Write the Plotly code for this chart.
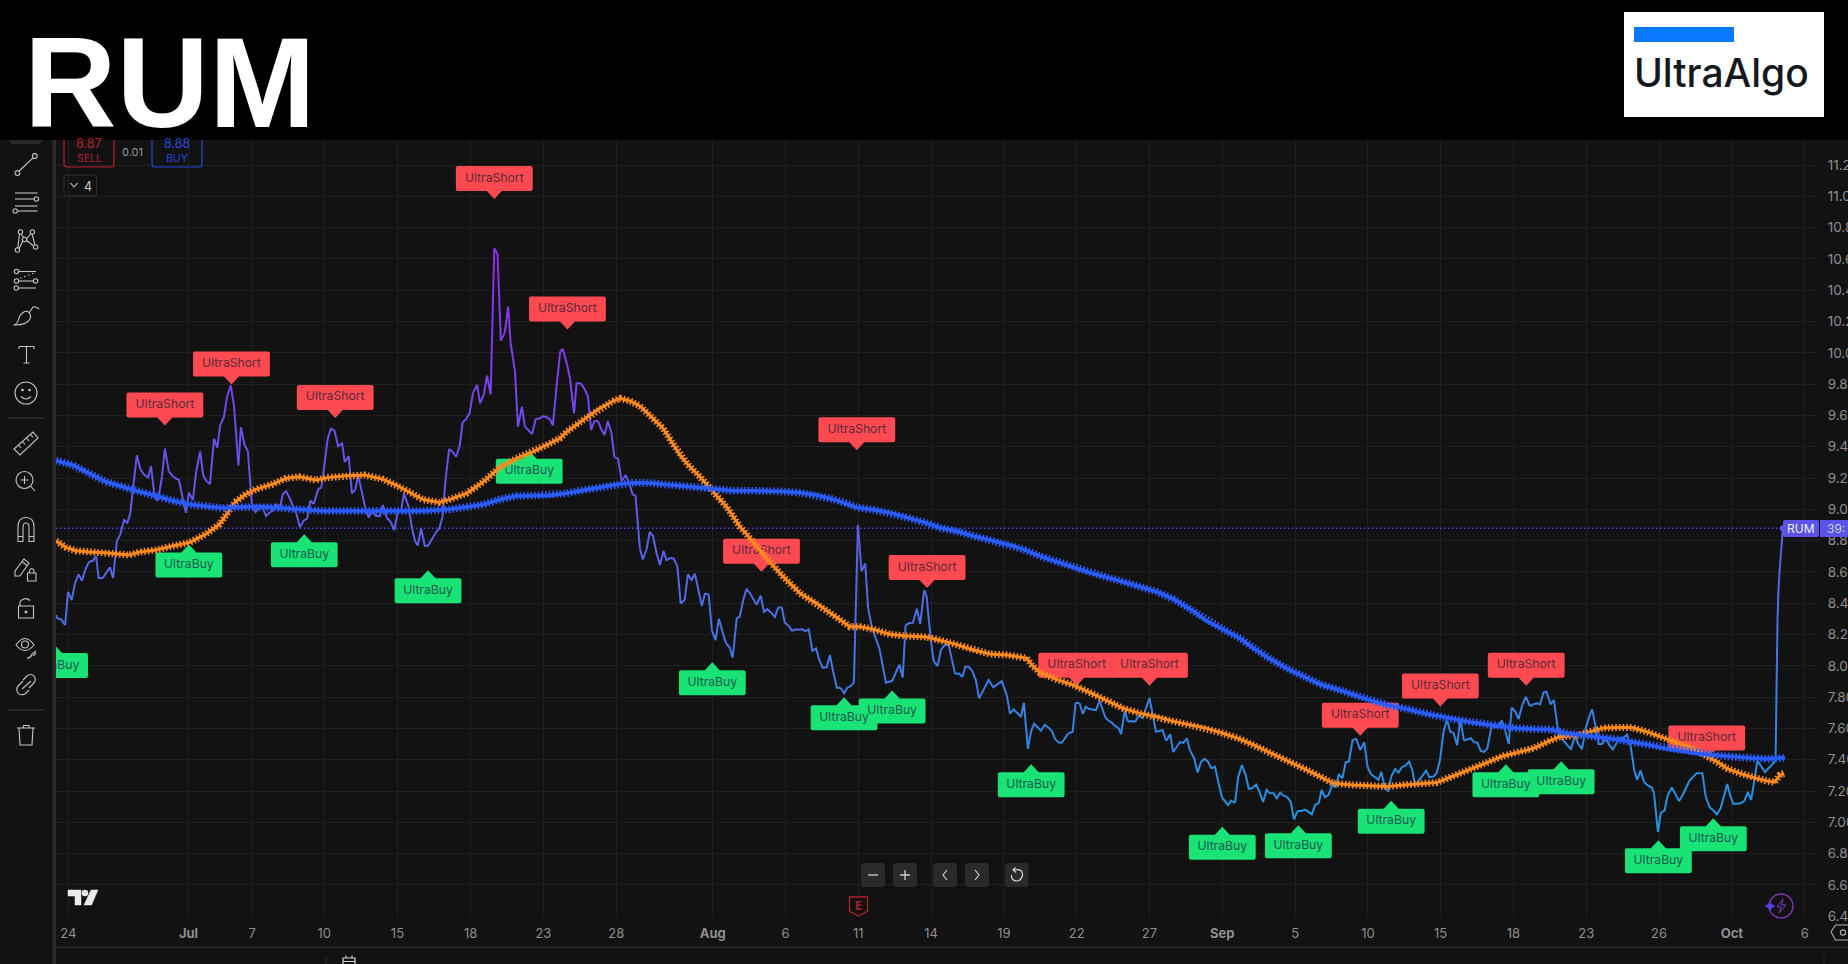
import plotly.graph_objects as go

# price line at its vertices (bar number, price)
line_bars = [-3.4, -3.0, -2.0, -0.9, -0.1, 0.9, 1.8, 2.8, 3.7, 4.8, 5.7, 6.7, 7.6, 8.3, 9.4, 11.4, 12.3, 13.3, 14.2, 15.3,
             16.2, 17.0, 17.8, 18.8, 19.8, 20.9, 21.9, 22.7, 23.7, 24.6, 25.7, 26.5, 27.6, 28.6, 29.6, 30.4, 31.4, 32.3, 33.1, 34.2,
             35.1, 36.2, 37.0, 37.9, 38.9, 40.0, 40.9, 41.7, 42.7, 43.6, 44.6, 45.5, 46.7, 47.4, 48.4, 49.3, 50.4, 51.4, 52.4, 53.2,
             54.3, 55.2, 56.0, 57.0, 58.0, 58.9, 59.8, 60.7, 61.7, 62.6, 63.6, 64.6, 65.6, 66.5, 67.4, 68.6, 69.5, 70.4, 71.2, 72.1,
             73.1, 74.1, 75.2, 75.9, 77.0, 77.9, 78.8, 79.6, 80.6, 81.6, 82.5, 83.4, 84.5, 85.6, 86.4, 87.4, 88.5, 89.5, 90.5, 91.4,
             92.2, 93.5, 94.4, 95.3, 96.0, 96.9, 97.9, 98.8, 100.8, 101.9, 102.8, 103.6,
             104.6, 105.5, 106.5, 107.5, 108.3, 109.2, 110.2, 111.2, 112.3, 113.1, 114.1, 115.0, 116.0, 117.0, 117.9, 118.8, 119.9, 120.8,
             121.5, 122.7, 123.5, 124.6, 125.4, 126.4, 127.4, 128.4, 129.4, 130.4, 131.4, 132.3, 133.1, 134.1, 135.1, 135.8, 136.9, 137.8,
             138.9, 139.6, 140.7, 141.6, 142.7, 143.6, 144.5, 145.5, 146.4, 147.3, 148.2, 149.2,
             150.0, 151.0, 152.0, 153.1, 154.1, 155.0, 155.8, 157.0, 157.8, 158.8, 159.7, 160.6, 161.6, 162.5, 163.5, 164.3, 165.4, 166.3,
             167.3, 168.2, 169.3, 170.2, 171.2, 172.1, 173.1, 174.0, 174.9, 175.9, 176.8, 177.8, 178.7, 179.7, 180.6, 181.7, 182.5, 183.6,
             184.4, 185.4, 186.3, 187.2, 189.1, 190.2, 191.1, 192.0, 193.1, 194.1, 195.0, 196.0, 196.8, 197.8, 198.8, 199.8, 200.8, 201.7,
             202.5, 203.4, 204.4, 205.4, 206.3, 207.2, 208.3, 209.2, 210.1, 211.1, 212.1, 213.1, 214.0,
             214.9, 215.8, 216.9, 217.9, 218.9, 219.7, 220.7, 221.8, 222.8, 223.7, 224.6, 226.3, 228.3, 229.2, 230.0, 231.0, 232.0, 233.1,
             234.0, 235.1, 235.8, 236.7, 237.7, 238.8, 239.7, 240.7, 241.8, 243.6, 244.7, 245.6, 246.4, 247.3, 248.3, 249.3, 250.2, 252.8,
             254.1, 256.4, 257.8, 258.7, 259.7, 261.7, 262.5, 263.6, 264.5, 265.3, 267.2, 268.2, 269.2, 270.2, 271.1, 272.1, 272.9, 274.7,
             275.9, 276.7, 277.8, 278.7, 279.5, 280.5, 282.3, 283.3, 284.8, 285.7, 286.6, 287.5, 288.5, 289.2, 290.2, 291.1, 292.0, 293.1,
             294.0, 295.1, 297.0, 298.8, 300.6, 301.6, 302.7, 303.5, 305.4, 306.3, 307.3, 308.1, 309.3, 310.2, 311.2, 312.1, 313.1, 314.0,
             315.0, 315.9, 316.9, 317.8, 318.6, 319.4, 320.5,
             321.4, 322.4, 323.4, 324.3, 325.3, 326.3, 327.2, 328.2, 329.2, 330.1, 331.1, 332.0, 332.9, 333.8, 334.7, 335.8, 336.7, 337.7,
             338.7, 339.8, 341.6, 342.5, 343.5, 344.3, 345.2, 346.2, 347.2, 348.2, 349.0, 350.0, 350.9, 351.8, 352.8, 353.8, 354.9, 356.0,
             356.9, 357.8, 359.9, 360.7, 361.7, 362.6, 363.4, 364.5, 365.4, 366.3, 367.3, 368.3, 369.2, 370.0, 373.0, 373.9, 375.0, 375.9,
             376.8, 377.8, 378.7, 379.6, 380.5, 381.5, 382.4, 383.4, 385.3, 386.2, 387.1, 388.0, 388.9, 389.8, 391.0, 391.9, 392.9, 393.8,
             394.8, 395.7,
             396.5, 397.5, 398.4, 399.4, 400.4, 401.5, 402.5, 403.4, 404.3, 405.3, 406.1, 407.2, 408.1, 409.1, 410.2, 411.2, 412.1, 412.8,
             413.9, 414.8, 415.8, 416.9, 417.8, 418.6, 419.5, 420.4, 421.3, 422.4, 423.3, 424.3, 426.1, 427.0, 428.2, 429.2, 430.2, 431.0,
             431.9, 432.9, 434.0, 435.0, 435.6, 436.7, 437.5, 438.5, 439.4, 440.5, 442.5, 443.5, 445.3, 447.3, 448.9, 449.8, 450.9, 451.9,
             452.9, 453.9, 454.8, 455.7, 456.5, 457.4, 459.4, 460.4, 461.4, 462.3, 463.2, 464.0, 465.0, 466.1, 467.9, 469.0, 469.6, 470.0,
             471.0]
line_prices = [8.324, 8.303, 8.297, 8.260, 8.473, 8.420, 8.527, 8.584, 8.544, 8.623, 8.665, 8.671, 8.701, 8.561, 8.561, 8.629, 8.561, 8.797, 8.836, 8.931,
               8.914, 8.974, 9.144, 9.345, 9.255, 9.219, 9.204, 9.276, 9.076, 9.055, 9.208, 9.387, 9.242, 9.213, 9.196, 9.187, 9.070, 8.978, 9.106, 9.059,
               9.240, 9.370, 9.219, 9.181, 9.161, 9.451, 9.394, 9.538, 9.587, 9.720, 9.792, 9.660, 9.281, 9.524, 9.411, 9.372, 9.034, 8.983, 9.008, 9.021,
               8.957, 8.978, 8.989, 9.034, 8.995, 9.098, 9.115, 9.076, 9.017, 8.974, 8.885, 8.927, 8.940, 9.055, 9.034, 9.127, 9.140, 9.293, 9.447, 9.515,
               9.502, 9.402, 9.421, 9.302, 9.340, 9.102, 9.123, 9.219, 9.112, 9.006, 8.948, 8.991, 8.957, 8.957, 9.027, 8.948, 8.921, 8.867, 8.983, 8.991,
               9.102, 9.012, 8.878, 8.793, 8.770, 8.878, 8.767, 8.767, 8.846, 8.878, 8.953, 9.187,
               9.386, 9.368, 9.336, 9.405, 9.556, 9.575, 9.613, 9.748, 9.794, 9.677, 9.731, 9.854, 9.735, 10.668, 10.629, 10.076, 10.129, 10.295,
               10.061, 9.880, 9.528, 9.656, 9.528, 9.501, 9.481, 9.579, 9.579, 9.596, 9.588, 9.575, 9.537, 9.784, 10.005, 10.025, 9.933, 9.837,
               9.613, 9.805, 9.805, 9.777, 9.726, 9.507, 9.564, 9.564, 9.511, 9.475, 9.564, 9.486,
               9.332, 9.325, 9.180, 9.219, 9.166, 9.095, 9.089, 8.750, 8.680, 8.740, 8.855, 8.829, 8.718, 8.644, 8.733, 8.676, 8.688, 8.684,
               8.637, 8.399, 8.420, 8.584, 8.548, 8.588, 8.484, 8.382, 8.463, 8.456, 8.224, 8.164, 8.301, 8.218, 8.147, 8.115, 8.052, 8.303,
               8.313, 8.420, 8.492, 8.463, 8.390, 8.448, 8.345, 8.362, 8.339, 8.313, 8.373, 8.373, 8.275, 8.258, 8.224, 8.233, 8.230, 8.233,
               8.220, 8.233, 8.096, 8.111, 8.037, 7.988, 7.990, 8.069, 7.962, 7.860, 7.860, 7.824, 7.862,
               7.870, 7.894, 8.899, 8.605, 8.654, 8.367, 8.250, 8.175, 8.111, 8.005, 7.892, 7.904, 8.007, 7.926, 8.258, 8.273, 8.275, 8.365,
               8.267, 8.484, 8.441, 8.207, 8.030, 7.998, 8.101, 8.132, 8.135, 7.949, 7.951, 7.928, 7.994, 7.994, 7.968, 7.909, 7.792, 7.909,
               7.862, 7.902, 7.813, 7.694, 7.721, 7.674, 7.764, 7.470, 7.583, 7.630, 7.585, 7.623, 7.606, 7.583, 7.530, 7.510, 7.508, 7.568,
               7.579, 7.764, 7.760, 7.692, 7.738, 7.724, 7.717, 7.777, 7.674, 7.649, 7.638, 7.617, 7.602, 7.564, 7.711, 7.643, 7.647, 7.643,
               7.681, 7.666, 7.794, 7.579, 7.589, 7.521, 7.562, 7.449, 7.513, 7.508, 7.536, 7.461, 7.408, 7.319, 7.387, 7.406, 7.387, 7.344,
               7.355, 7.259, 7.159, 7.131, 7.110, 7.138, 7.125,
               7.292, 7.366, 7.303, 7.211, 7.220, 7.241, 7.196, 7.130, 7.207, 7.185, 7.185, 7.153, 7.190, 7.170, 7.164, 7.132, 7.019, 7.073,
               7.073, 7.081, 7.051, 7.111, 7.121, 7.207, 7.160, 7.175, 7.239, 7.222, 7.307, 7.281, 7.383, 7.388, 7.526, 7.533, 7.462, 7.511,
               7.356, 7.309, 7.271, 7.322, 7.217, 7.200, 7.292, 7.341, 7.317, 7.351, 7.362, 7.388, 7.335, 7.234, 7.330, 7.288, 7.292, 7.313,
               7.398, 7.579, 7.660, 7.579, 7.573, 7.492, 7.660, 7.522, 7.537, 7.511, 7.509, 7.456, 7.450, 7.471, 7.616, 7.607, 7.611, 7.650,
               7.579, 7.501,
               7.733, 7.707, 7.660, 7.748, 7.801, 7.743, 7.754, 7.760, 7.754, 7.831, 7.833, 7.754, 7.782, 7.611, 7.537, 7.505, 7.484, 7.469,
               7.552, 7.501, 7.467, 7.607, 7.675, 7.722, 7.622, 7.501, 7.501, 7.537, 7.494, 7.467, 7.537, 7.537, 7.560, 7.484, 7.330, 7.271,
               7.330, 7.256, 7.234, 7.222, 7.185, 6.938, 7.062, 7.075, 7.175, 7.222, 7.136, 7.175, 7.264, 7.313, 7.313, 7.164, 7.096, 7.075,
               7.051, 7.090, 7.164, 7.245, 7.175, 7.117, 7.122, 7.136, 7.192, 7.143, 7.271, 7.394, 7.360, 7.320, 7.366, 7.392, 8.399, 8.570,
               8.879]

# slow average (blue)
slow_bars = [-3.4, 1.2, 5.7, 10.3, 14.9, 19.5, 24.1, 28.6, 33.2, 37.8, 42.4, 47.0, 51.5, 56.1, 60.7, 65.3, 69.9, 79.0, 88.2, 97.3,
             104.8, 109.4, 114.0, 118.5, 123.1, 127.7, 132.3, 136.9, 141.4, 146.0, 150.6, 155.2, 159.7, 164.3, 168.9, 173.5, 178.1, 182.6,
             187.2, 191.8, 196.4, 201.0, 205.5, 210.1, 214.7, 216.6, 221.2, 225.7, 230.3, 234.9, 239.5, 244.1, 248.6, 253.2, 257.8, 262.4,
             266.9, 271.5, 276.1, 280.7, 285.3, 289.8, 294.4, 299.0, 303.6, 308.2, 312.7, 317.3, 321.9, 325.6, 330.1, 334.7, 339.3, 343.9,
             348.5, 353.0, 357.6, 362.2, 366.8, 371.3, 375.9, 380.5, 385.1, 389.7, 394.2, 397.9, 402.5, 407.0, 411.6, 416.2, 420.8, 425.3,
             429.9, 434.5, 439.1, 443.7, 448.2, 452.8, 457.4, 462.0, 466.6, 471.6]
slow_prices = [9.311, 9.283, 9.230, 9.176, 9.144, 9.112, 9.087, 9.055, 9.031, 9.017, 9.008, 9.014, 9.017, 9.012, 9.004, 8.995, 8.989, 8.989, 8.987, 8.989,
               9.000, 9.014, 9.031, 9.063, 9.085, 9.087, 9.089, 9.102, 9.123, 9.140, 9.159, 9.170, 9.168, 9.157, 9.146, 9.138, 9.129, 9.119,
               9.119, 9.119, 9.114, 9.106, 9.091, 9.065, 9.031, 9.012, 8.997, 8.978, 8.948, 8.918, 8.882, 8.859, 8.829, 8.803, 8.776, 8.744,
               8.701, 8.665, 8.629, 8.595, 8.565, 8.537, 8.505, 8.473, 8.426, 8.362, 8.286, 8.233, 8.175, 8.112, 8.044, 7.984, 7.931, 7.882,
               7.850, 7.814, 7.780, 7.750, 7.729, 7.701, 7.680, 7.658, 7.641, 7.624, 7.611, 7.601, 7.596, 7.594, 7.569, 7.558, 7.543, 7.530,
               7.511, 7.494, 7.469, 7.452, 7.437, 7.428, 7.418, 7.411, 7.405, 7.413]

# fast average (orange)
fast_bars = [-3.4, -0.7, 2.1, 5.7, 10.3, 14.0, 16.7, 19.5, 24.1, 28.6, 33.2, 37.8, 41.5, 43.3, 46.0, 48.8, 51.5, 56.1, 59.8, 63.4,
             68.0, 71.7, 76.3, 81.3, 86.3, 90.0, 93.6, 97.3, 101.9, 104.8, 109.4, 114.0, 118.5, 123.1, 127.7, 132.3, 135.0, 136.9, 141.4,
             146.0, 149.7, 151.5, 154.3, 157.0, 159.7, 163.4, 165.7, 168.0, 170.3, 173.5, 177.1, 180.8, 184.5, 188.1, 191.8, 196.4, 201.0,
             205.5, 210.1, 214.7, 217.5, 221.2, 225.7, 230.3, 235.8, 239.5, 244.1, 248.6, 253.2, 257.8, 263.3, 264.7, 266.9, 271.5, 276.1,
             280.7, 285.3, 289.8, 294.4, 299.0, 303.6, 308.2, 312.7, 317.3, 321.9, 325.6, 330.1, 334.7, 339.3, 343.9, 347.5, 353.0, 357.6,
             362.2, 366.8, 371.3, 375.9, 380.5, 385.1, 389.7, 394.2, 397.9, 402.5, 407.0, 409.8, 414.4, 418.0, 421.7, 425.3, 429.5, 433.6,
             437.3, 440.9, 445.5, 449.2, 452.8, 455.6, 459.2, 462.9, 466.6, 468.8, 470.2, 471.3]
fast_prices = [8.797, 8.757, 8.735, 8.727, 8.723, 8.714, 8.708, 8.727, 8.740, 8.765, 8.787, 8.842, 8.904, 8.963, 9.049, 9.098, 9.127, 9.161, 9.198, 9.208,
               9.187, 9.204, 9.215, 9.219, 9.193, 9.155, 9.112, 9.063, 9.044, 9.063, 9.102, 9.176, 9.268, 9.325, 9.368, 9.421, 9.453, 9.496, 9.570,
               9.645, 9.692, 9.709, 9.692, 9.660, 9.602, 9.517, 9.432, 9.347, 9.283, 9.208, 9.112, 9.016, 8.889, 8.793, 8.686, 8.569, 8.463,
               8.399, 8.324, 8.250, 8.250, 8.233, 8.201, 8.190, 8.184, 8.164, 8.135, 8.101, 8.075, 8.069, 8.049, 8.005, 7.956, 7.913, 7.877,
               7.828, 7.775, 7.728, 7.696, 7.675, 7.645, 7.621, 7.600, 7.568, 7.532, 7.494, 7.445, 7.398, 7.345, 7.292, 7.249, 7.239, 7.234,
               7.228, 7.239, 7.245, 7.254, 7.296, 7.341, 7.381, 7.424, 7.447, 7.473, 7.522, 7.547, 7.554, 7.579, 7.603, 7.605, 7.605, 7.579,
               7.548, 7.516, 7.477, 7.435, 7.388, 7.345, 7.313, 7.286, 7.264, 7.256, 7.303, 7.313]

# signal flags (bar and price of the pointer tip)
short_bars = [26.5, 44.8, 73.3, 117.0, 137.1, 190.4, 216.6, 235.9, 277.0, 297.0, 354.9, 376.9, 400.5, 450.1]
short_prices = [9.535, 9.797, 9.584, 10.983, 10.149, 8.601, 9.378, 8.497, 7.872, 7.872, 7.553, 7.740, 7.872, 7.408]
buy_bars = [-3.8, 33.1, 64.8, 98.8, 126.6, 176.9, 213.1, 226.3, 264.5, 317.0, 337.9, 363.4, 394.9, 410.1, 436.8, 451.9]
buy_prices = [8.133, 8.775, 8.840, 8.611, 9.374, 8.022, 7.799, 7.842, 7.371, 6.972, 6.981, 7.138, 7.371, 7.390, 6.885, 7.026]

last_price = 8.879

x_tick_bars = [0, 33, 50.5, 70.3, 90.4, 110.5, 130.5, 150.5, 177, 197, 217, 237, 257, 277, 297, 317, 337, 357, 377, 397, 417, 437, 457, 477]
x_tick_labels = ["24", "<b>Jul</b>", "7", "10", "15", "18", "23", "28", "<b>Aug</b>", "6", "11", "14", "19", "22", "27", "<b>Sep</b>",
                 "5", "10", "15", "18", "23", "26", "<b>Oct</b>", "6"]

BG = "#121212"
BLUE = "#2a5cff"
ORANGE = "#ff8a1f"
RED = "#ff4a52"
GREEN = "#19e374"
ICON = "#c4c4c4"
SANS = "Inter"

WIDTH, HEIGHT = 1848, 964
PLOT_L, PLOT_R, PLOT_T, PLOT_B = 56, 1819, 140, 917
PX_PER_UNIT = 156.5
BAR_PX = 3.64


def price_colour(p):
    # the price line fades from blue at the bottom to purple at the top
    t = max(0.0, min(1.0, (p - 7.0) / 3.6))
    return "rgb(%d,%d,%d)" % (35 + t * 110, 150 - t * 105, 225 + t * 15)


def line_pieces(bars, prices, step=0.1):
    """Group the line segments by price band so each band gets one colour."""
    bands = {}
    for x0, y0, x1, y1 in zip(bars, prices, bars[1:], prices[1:]):
        n = max(1, int(abs(y1 - y0) / step) + 1)
        for i in range(n):
            ax, ay = x0 + (x1 - x0) * i / n, y0 + (y1 - y0) * i / n
            bx, by = x0 + (x1 - x0) * (i + 1) / n, y0 + (y1 - y0) * (i + 1) / n
            key = round((ay + by) / 2 / step)
            xs, ys = bands.setdefault(key, ([], []))
            if xs and xs[-1] == ax and ys[-1] == ay:
                xs.append(bx)
                ys.append(by)
            else:
                if xs:
                    xs.append(None)
                    ys.append(None)
                xs += [ax, bx]
                ys += [ay, by]
    return bands


def seg(d, color=ICON, width=1.1, fill=None):
    s = dict(type="path", path=d, xref="x2", yref="y2", layer="above", line=dict(color=color, width=width))
    if fill:
        s["fillcolor"] = fill
    return s


def circ(cx, cy, r, color=ICON, width=1.1, fill=None):
    s = dict(type="circle", x0=cx - r, x1=cx + r, y0=cy - r, y1=cy + r, xref="x2", yref="y2", layer="above",
             line=dict(color=color, width=width))
    if fill:
        s["fillcolor"] = fill
    return s


def box(x0, y0, x1, y1, fill=None, color=None, width=1, r=0):
    d = (f"M{x0 + r},{y0} L{x1 - r},{y0} Q{x1},{y0} {x1},{y0 + r} L{x1},{y1 - r} Q{x1},{y1} {x1 - r},{y1} "
         f"L{x0 + r},{y1} Q{x0},{y1} {x0},{y1 - r} L{x0},{y0 + r} Q{x0},{y0} {x0 + r},{y0} Z")
    s = dict(type="path", path=d, xref="x2", yref="y2", layer="above", line=dict(color=color or "rgba(0,0,0,0)", width=width))
    if fill:
        s["fillcolor"] = fill
    return s


def flag_shape(bar, price, half_w, up):
    # box with a small pointer, sized in pixels around the tip
    s = 1 if up else -1
    y0, y1 = 8 * s, 33 * s
    d = (f"M0,0 L{-7.5},{y0} L{-half_w + 2},{y0} Q{-half_w},{y0} {-half_w},{y0 + 2 * s} L{-half_w},{y1 - 2 * s} "
         f"Q{-half_w},{y1} {-half_w + 2},{y1} L{half_w - 2},{y1} Q{half_w},{y1} {half_w},{y1 - 2 * s} "
         f"L{half_w},{y0 + 2 * s} Q{half_w},{y0} {half_w - 2},{y0} L7.5,{y0} Z")
    return dict(type="path", path=d, xref="x", yref="y", xsizemode="pixel", ysizemode="pixel",
                xanchor=bar, yanchor=price, layer="between", line=dict(width=0),
                fillcolor=RED if up else GREEN)


fig = go.Figure()

# flag text goes first so that the averages run over it, as in the original
offset = 20.5 / PX_PER_UNIT
fig.add_trace(go.Scatter(x=short_bars, y=[p + offset for p in short_prices], mode="text",
                         text=["UltraShort"] * len(short_bars), textposition="middle center",
                         textfont=dict(family=SANS, size=12.2, color="#5a2a38"), hoverinfo="skip"))
fig.add_trace(go.Scatter(x=buy_bars, y=[p - offset for p in buy_prices], mode="text",
                         text=["UltraBuy"] * len(buy_bars), textposition="middle center",
                         textfont=dict(family=SANS, size=12.2, color="#1c5a50"), hoverinfo="skip"))

# dotted last price line
fig.add_trace(go.Scatter(x=[-3.4, 471], y=[last_price, last_price], mode="lines",
                         line=dict(color="#4f4dff", width=1.3, dash="1.3px,2.7px"), hoverinfo="skip"))

for key, (xs, ys) in sorted(line_pieces(line_bars, line_prices).items()):
    fig.add_trace(go.Scatter(x=xs, y=ys, mode="lines", hoverinfo="skip",
                             line=dict(color=price_colour(key * 0.1), width=2)))
fig.add_trace(go.Scatter(x=line_bars[-1:], y=line_prices[-1:], mode="markers", hoverinfo="skip",
                         marker=dict(size=6, color="#5b52e8")))

# the averages are plotted as crosses in the original: a core line plus a dashed wide line gives the ticks
for bars, prices, col, core, tick in [(fast_bars, fast_prices, ORANGE, 3.0, 7.0), (slow_bars, slow_prices, BLUE, 3.6, 7.6)]:
    fig.add_trace(go.Scatter(x=bars, y=prices, mode="lines", hoverinfo="skip", line=dict(color=col, width=core)))
    fig.add_trace(go.Scatter(x=bars, y=prices, mode="lines", hoverinfo="skip",
                             line=dict(color=col, width=tick, dash="1.6px,2.04px")))

# empty trace so the pixel axes for the page furniture exist
fig.add_trace(go.Scatter(x=[0], y=[0], xaxis="x2", yaxis="y2", mode="markers", marker=dict(opacity=0), hoverinfo="skip"))

shapes = []
for b, p in zip(short_bars, short_prices):
    shapes.append(flag_shape(b, p, 38.4, True))
for b, p in zip(buy_bars, buy_prices):
    shapes.append(flag_shape(b, p, 33.4, False))

# left toolbar
shapes.append(box(0, 130, 52.6, 964, fill=BG))
shapes.append(box(52.6, 130, 56, 964, fill="#2b2b2b"))
shapes.append(box(10, 132, 42, 144, fill="#2a2a2a", r=4))
# line tool
shapes += [circ(17.4, 173, 2.4), circ(34.8, 156, 2.4), seg("M19.2,171 L33,157.8")]
# parallel lines
shapes += [seg("M15,193 L37.5,193"), seg("M15,199 L34,199"), circ(36.4, 199, 2.2), seg("M15,206 L37.5,206"),
           seg("M17.5,211 L37.5,211"), circ(15.2, 211, 2.2)]
# pattern
shapes += [circ(20.5, 232, 2.2), circ(32.4, 232, 2.2), circ(24.5, 239.5, 2.2), circ(17.4, 250, 2.2), circ(35.6, 247, 2.2),
           seg("M19.5,234 L17.8,248 M21,234 L23.8,237.5 M32,234 L35,245 M26.5,239 L31,233.5 M26.5,240.5 L33.8,246 M22.8,241 L19,248.5")]
# fib
shapes += [circ(16.5, 271.5, 2.2), seg("M18.7,271.5 L36,271.5"), circ(16.5, 281, 2.2), circ(35.6, 281, 2.2), seg("M18.7,281 L33.4,281"),
           circ(16.2, 288, 2.2), seg("M18.4,288 L36,288"), seg("M20,278 L21.5,278 M24,276.5 L25.5,276.5 M28,275 L29.5,275 M32,273.5 L33.5,273.5")]
# brush
shapes += [seg("M14.5,325 Q18,323 19,318 Q21,312 27,311 Q32,314 30,319 Q27,325 14.5,325 Z"), seg("M29,313 L33,307 Q36,306 39,309"), ]
# text tool
shapes += [seg("M19,346.5 L34,346.5 M26.5,346.5 L26.5,363 M23.5,363 L29.5,363 M19,346.5 L19,349 M34,346.5 L34,349")]
# smile
shapes += [circ(26, 393, 11), circ(22.5, 390, 0.8, fill=ICON), circ(29.5, 390, 0.8, fill=ICON), seg("M21,396.5 Q26,401.5 31,396.5")]
shapes.append(seg("M8,418 L44,418", color="#3a3a3a"))
# ruler
shapes += [seg("M14,449 L33,432 L38,438 L20,455 Z"), seg("M18.5,445 L21,448 M22.5,441.5 L25,444.5 M26.5,438 L29,441 M30.5,434.5 L33,437.5")]
# zoom
shapes += [circ(24.5, 480, 8.5), seg("M24.5,476 L24.5,484 M20.5,480 L28.5,480 M30.5,486 L35,491")]
# magnet
shapes += [seg("M18,541.5 L18,527 Q18,517.5 26,517.5 Q34,517.5 34,527 L34,541.5 L29,541.5 L29,527 Q29,523 26,523 Q23,523 23,527 L23,541.5 Z"),
           seg("M18,536.5 L23,536.5 M29,536.5 L34,536.5")]
# pencil lock
shapes += [seg("M15,576 L15,571 L24,559 L29,563 L20,576 Z M22,561.5 L27,565.5"), box(27.5, 573, 36, 581, color=ICON, width=1.1),
           seg("M29.5,573 L29.5,570.5 Q31.7,566.5 34,570.5 L34,573")]
# lock
shapes += [box(18.5, 606, 33.5, 618, color=ICON, width=1.1), seg("M20,606 L20,602 Q20,601 22,600 Q26,597 30,600.5"), circ(26, 612, 0.9, fill=ICON)]
# eye
shapes += [seg("M16,645 Q25,632 34,645 Q25,656 16,645 Z"), circ(25, 644.5, 3.5), seg("M27,658 Q31,658 32,654 L36,651 M33,656 L36,653")]
# link
shapes += [seg("M23,680 L27,676 Q31,673 34,676 Q37,680 33,684 L29,688 M29,690 L25,694 Q20,696 18,693 Q15,689 19,685 L23,681 M22,689 L31,681")]
shapes.append(seg("M8,710 L44,710", color="#3a3a3a"))
# trash
shapes += [seg("M17,728 L35,728 M23,728 L23.5,725.5 L29,725.5 L29.5,728 M19,728 L20,745 L32,745 L33,728")]

# chart overlay bits
shapes += [seg("M68,890 L81,890 L81,905 L75,905 L75,896 L68,896 Z", color="#eaeaea", width=0.5, fill="#eaeaea"),
           circ(85, 893, 2.7, color="#eaeaea", fill="#eaeaea"),
           seg("M91,890 L98,890 L91.5,905 L84,905 Z", color="#eaeaea", width=0.5, fill="#eaeaea")]
for x0, x1 in [(861, 885), (893, 917), (933, 957), (965, 989), (1005, 1028.5)]:
    shapes.append(box(x0, 863, x1, 887, fill="#2a2a2a", r=3))
shapes += [seg("M868,875 L878,875", color="#d0d0d0", width=1.3), seg("M900,875 L910,875 M905,870 L905,880", color="#d0d0d0", width=1.3),
           seg("M947,870 L943,875 L947,880", color="#d0d0d0", width=1.2), seg("M975,870 L979,875 L975,880", color="#d0d0d0", width=1.2),
           seg("M1013.5,870 Q1023,868 1022.5,875.5 Q1021,881 1016.5,881 Q1011,880.5 1011.5,875 M1015.5,867.5 L1013,870 L1016,872.5", color="#d0d0d0", width=1.2)]
shapes += [seg("M849.5,897 L867.5,897 L867.5,911 L858.5,916 L849.5,911 Z", color="#a8202e", width=1.3)]
shapes += [circ(1781, 906, 12, color="#8236b4", width=1.4),
           seg("M1783,899 L1777,907 L1781.5,907 L1779,913 L1786,905 L1781.5,905 Z", color="#8236b4", width=1),
           seg("M1770,902 L1772,904.5 L1775,906 L1772,907.5 L1770,911 L1768,907.5 L1765,906 L1768,904.5 Z", color="#5b3fe0", width=0.5, fill="#5b3fe0")]

# axis furniture
shapes += [seg("M1831,932 L1835.5,925 L1848,925 M1831,932 L1835.5,940 L1848,940", color="#b0b0b0", width=1.1), circ(1843, 932.5, 2.6, color="#b0b0b0")]
shapes.append(seg("M56,947.3 L1848,947.3", color="#2b2b2b", width=1.2))
shapes.append(seg("M326,956 L326,964", color="#2b2b2b", width=1))
shapes.append(seg("M1824,956 L1824,964", color="#2b2b2b", width=1))
shapes += [box(343, 958, 355, 970, color="#d8d8d8", width=1.2), seg("M346,955.5 L346,958 M352,955.5 L352,958 M343,961.5 L355,961.5", color="#d8d8d8", width=1.2)]

# last price tag
shapes += [box(1783, 520, 1819, 537, fill="#5b52e8", r=2), box(1820, 520, 1850, 537, fill="#5b52e8")]

# sell / buy panel, its top is hidden by the banner
shapes += [box(64, 125, 114, 167, color="#b52030", width=1.2, r=3), box(152, 125, 202, 167, color="#2148d8", width=1.2, r=3),
           box(64, 175, 96.5, 196, color="#2e2e2e", width=1, r=2),
           seg("M70.5,183 L74,187 L77.5,183", color="#c8c8c8", width=1.1)]

# black banner and logo
shapes += [box(0, 0, 1848, 140, fill="#000000"),
           box(1624, 12, 1824, 117, fill="#ffffff"),
           box(1634, 27, 1734, 42, fill="#0a78ff")]

annotations = [
    dict(x=22, y=82, text="<b>RUM</b>", showarrow=False, xanchor="left", yanchor="middle", font=dict(family="Liberation Sans", size=128, color="#ffffff")),
    dict(x=1632, y=72, text="UltraAlgo", showarrow=False, xanchor="left", yanchor="middle", font=dict(family=SANS, size=39, weight=500, color="#15181c")),
    dict(x=89, y=143.5, text="8.87", showarrow=False, font=dict(family=SANS, size=12.5, color="#b52030")),
    dict(x=89, y=158.5, text="SELL", showarrow=False, font=dict(family=SANS, size=10.5, color="#b52030")),
    dict(x=132.5, y=152, text="0.01", showarrow=False, font=dict(family=SANS, size=11, color="#9a9a9a")),
    dict(x=177, y=143.5, text="8.88", showarrow=False, font=dict(family=SANS, size=12.5, color="#2148d8")),
    dict(x=177, y=158.5, text="BUY", showarrow=False, font=dict(family=SANS, size=10.5, color="#2148d8")),
    dict(x=88, y=186, text="4", showarrow=False, font=dict(family=SANS, size=12.5, color="#c8c8c8")),
    dict(x=858.5, y=905.5, text="<b>E</b>", showarrow=False, font=dict(family=SANS, size=11.5, color="#a8202e")),
    dict(x=1801, y=528.5, text="RUM", showarrow=False, font=dict(family=SANS, size=12, color="#f0f0f0")),
    dict(x=1825, y=528.5, text="39:", showarrow=False, xanchor="left", font=dict(family=SANS, size=12, color="#d0d0d0")),
    dict(x=73, y=967, text="1D&nbsp;&nbsp;&nbsp;5D&nbsp;&nbsp;&nbsp;1M&nbsp;&nbsp;&nbsp;3M&nbsp;&nbsp;&nbsp;6M&nbsp;&nbsp;&nbsp;YTD&nbsp;&nbsp;&nbsp;1Y&nbsp;&nbsp;&nbsp;5Y&nbsp;&nbsp;&nbsp;All", showarrow=False, xanchor="left", font=dict(family=SANS, size=13, color="#b8b8b8")),
    dict(x=1668, y=967, text="10:50:10 UTC-4&nbsp;&nbsp;RTH", showarrow=False, xanchor="left", font=dict(family=SANS, size=13, color="#b8b8b8")),
]
for a in annotations:
    a.update(xref="x2", yref="y2")

fig.update_layout(
    width=WIDTH, height=HEIGHT, margin=dict(l=0, r=0, t=0, b=0, autoexpand=False),
    paper_bgcolor=BG, plot_bgcolor="rgba(0,0,0,0)", showlegend=False, hovermode=False,
    xaxis=dict(domain=[PLOT_L / WIDTH, PLOT_R / WIDTH], anchor="y", automargin=False,
               range=[(PLOT_L - 68.4) / BAR_PX, (PLOT_R - 68.4) / BAR_PX],
               tickmode="array", tickvals=x_tick_bars, ticktext=x_tick_labels,
               showgrid=True, gridcolor="#202020", gridwidth=1, zeroline=False, showline=False,
               ticks="outside", ticklen=4, tickcolor="rgba(0,0,0,0)",
               tickfont=dict(family=SANS, size=13, color="#8e8e8e"), fixedrange=True),
    yaxis=dict(domain=[1 - PLOT_B / HEIGHT, 1 - PLOT_T / HEIGHT], anchor="x", side="right", automargin=False,
               range=[9 - (PLOT_B - 509.3) / PX_PER_UNIT, 9 + (509.3 - PLOT_T) / PX_PER_UNIT],
               tick0=6.4, dtick=0.2, tickformat=".2f",
               showgrid=True, gridcolor="#202020", gridwidth=1, zeroline=False, showline=False,
               ticks="outside", ticklen=5, tickcolor="rgba(0,0,0,0)",
               tickfont=dict(family=SANS, size=13.5, color="#8e8e8e"), fixedrange=True),
    xaxis2=dict(domain=[0, 1], range=[0, WIDTH], anchor="y2", visible=False, fixedrange=True),
    yaxis2=dict(domain=[0, 1], range=[HEIGHT, 0], anchor="x2", visible=False, fixedrange=True),
    shapes=shapes, annotations=annotations,
)

fig.write_html("out.html", config=dict(displayModeBar=False),
               post_script="document.body.style.margin='0';document.body.style.background='#121212';document.body.style.overflow='hidden';")
